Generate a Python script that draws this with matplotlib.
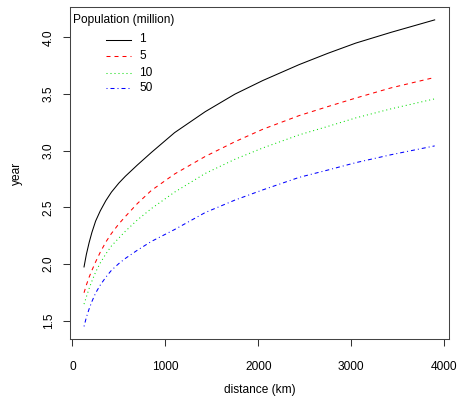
import matplotlib
matplotlib.use("Agg")
import matplotlib.pyplot as plt

plt.rcParams['font.family'] = ['Liberation Sans', 'DejaVu Sans']
plt.rcParams['lines.scale_dashes'] = False

distance = [125, 150, 180, 210, 250, 300, 360, 420, 500, 570, 700, 850, 1100, 1430, 1750, 2050, 2440, 2750, 3050, 3430, 3900]
pop_labels = ["1", "5", "10", "50"]
legend_title = "Population (million)"
year_pop1 = [1.975, 2.085, 2.19, 2.28, 2.38, 2.47, 2.56, 2.635, 2.715, 2.775, 2.875, 2.985, 3.16, 3.345, 3.50, 3.62, 3.76, 3.86, 3.95, 4.045, 4.155]
year_pop5 = [1.747, 1.815, 1.885, 1.945, 2.02, 2.105, 2.195, 2.27, 2.355, 2.42, 2.535, 2.65, 2.795, 2.95, 3.08, 3.19, 3.31, 3.39, 3.465, 3.555, 3.647]
year_pop10 = [1.647, 1.71, 1.785, 1.85, 1.93, 2.01, 2.09, 2.16, 2.23, 2.29, 2.39, 2.49, 2.635, 2.80, 2.925, 3.025, 3.14, 3.215, 3.29, 3.37, 3.458]
year_pop50 = [1.45, 1.53, 1.605, 1.67, 1.745, 1.815, 1.885, 1.945, 2.005, 2.05, 2.123, 2.20, 2.305, 2.455, 2.565, 2.655, 2.765, 2.83, 2.895, 2.965, 3.043]

series = [year_pop1, year_pop5, year_pop10, year_pop50]
colors = ["#000000", "#FF0000", "#00DD00", "#0000FF"]
px = 0.72
styles = ["-", (0, (4*px, 4*px)), (0, (1*px, 3*px)), (0, (1*px, 3*px, 4*px, 3*px))]

W, H = 457, 403
fig = plt.figure(figsize=(W/100, H/100), dpi=100)
L, R, T, B = 70, 448.7, 7.3, 339
ax = fig.add_axes([L/W, 1-B/H, (R-L)/W, (B-T)/H])

for ys, c, ls in zip(series, colors, styles):
    ax.plot(distance, ys, color=c, linestyle=ls, linewidth=0.75)

ax.set_xlim(-26, 4051)
ax.set_ylim(1.339, 4.266)
ax.set_xticks([0, 1000, 2000, 3000, 4000])
ax.set_yticks([1.5, 2.0, 2.5, 3.0, 3.5, 4.0])
ax.set_yticklabels(["1.5", "2.0", "2.5", "3.0", "3.5", "4.0"], rotation=90, va='center')
ax.tick_params(direction='out', length=5, width=0.75, labelsize=8.6, color='#333333')
ax.tick_params(axis='x', pad=11)
ax.tick_params(axis='y', pad=6)
for s in ax.spines.values():
    s.set_linewidth(0.75)
    s.set_color('#444444')

ax.set_xlabel("distance (km)", fontsize=8.6, labelpad=8)
ax.set_ylabel("year", fontsize=8.6, labelpad=14)

# legend drawn in pixel-based axes coordinates
def axpos(xp, yp):
    return ((xp - L) / (R - L), (B - yp) / (B - T))

tx, ty = axpos(73, 20)
ax.text(tx, ty, legend_title, transform=ax.transAxes, fontsize=8.6, ha='left', va='center')
rows = [39.5, 56, 72.5, 88]
for yp, c, ls, lab in zip(rows, colors, styles, pop_labels):
    x0, yy = axpos(106, yp)
    x1, _ = axpos(131, yp)
    ax.plot([x0, x1], [yy, yy], transform=ax.transAxes, color=c, linestyle=ls, linewidth=0.75)
    lx, _ = axpos(139, yp)
    ax.text(lx, yy, lab, transform=ax.transAxes, fontsize=8.6, ha='left', va='center')

fig.savefig("out.png", dpi=100)
